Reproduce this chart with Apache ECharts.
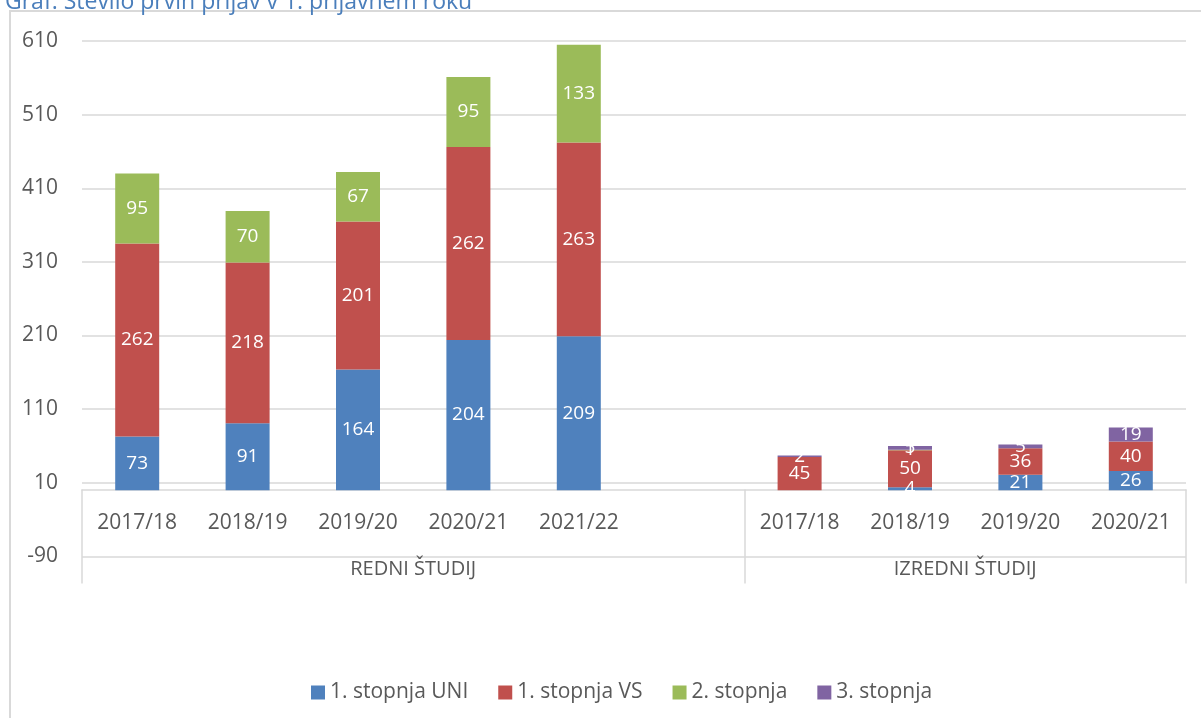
<!DOCTYPE html>
<html>
<head>
<meta charset="utf-8">
<script src="https://cdn.jsdelivr.net/npm/echarts@6/dist/echarts.min.js"></script>
<style>
html,body{margin:0;padding:0;background:#fff;}
#chart{width:1201px;height:718px;}
</style>
</head>
<body>
<div id="chart"></div>
<script>
// ---- data ----
const titleText = 'Graf: Število prvih prijav v 1. prijavnem roku';
const yearsRedni = ['2017/18', '2018/19', '2019/20', '2020/21', '2021/22'];
const yearsIzredni = ['2017/18', '2018/19', '2019/20', '2020/21'];
const groupNames = ['REDNI ŠTUDIJ', 'IZREDNI ŠTUDIJ'];
const seriesNames = ['1. stopnja UNI', '1. stopnja VS', '2. stopnja', '3. stopnja'];

const uniRedni = [73, 91, 164, 204, 209];
const vsRedni = [262, 218, 201, 262, 263];
const st2Redni = [95, 70, 67, 95, 133];
const st3Redni = [0, 0, 0, 0, 0];

const uniIzredni = [0, 4, 21, 26];
const vsIzredni = [45, 50, 36, 40];
const st2Izredni = [0, 1, 0, 0];
const st3Izredni = [2, 5, 5, 19];

const yMin = -90, yMax = 610, yStep = 100;

// ---- build ----
const categories = yearsRedni.concat([''], yearsIzredni);
const join = (a, b) => a.concat([null], b);
const seriesData = [
  join(uniRedni, uniIzredni),
  join(vsRedni, vsIzredni),
  join(st2Redni, st2Izredni),
  join(st3Redni, st3Izredni)
];
const colors = ['#4F81BD', '#C0504D', '#9BBB59', '#8064A2'];

// group axis: boundary points (11 points for 10 slots)
const nSlots = categories.length;
const redniSlots = yearsRedni.length + 1;
const groupPoints = [];
for (let i = 0; i <= nSlots; i++) groupPoints.push('');
groupPoints[redniSlots / 2] = groupNames[0];
groupPoints[redniSlots + (nSlots - redniSlots) / 2] = groupNames[1];
const groupBoundaries = [0, redniSlots, nSlots];

const FONT = 'Open Sans';
const chart = echarts.init(document.getElementById('chart'));
chart.setOption({
  animation: false,
  color: colors,
  title: {
    text: titleText,
    left: 0,
    top: -14,
    textStyle: {color: '#4A7EBB', fontFamily: FONT, fontSize: 23, fontWeight: 'normal'}
  },
  graphic: [{
    type: 'rect',
    shape: {x: 10, y: 11, width: 1400, height: 900},
    style: {fill: 'none', stroke: '#D9D9D9', lineWidth: 2},
    silent: true,
    z: -10
  }],
  grid: {left: 82, right: 15, top: 41, bottom: 161.6, containLabel: false},
  legend: {
    data: seriesNames,
    left: 306,
    top: 677,
    icon: 'rect',
    itemWidth: 14,
    itemHeight: 14,
    itemGap: 30,
    textStyle: {color: '#595959', fontFamily: FONT, fontSize: 21}
  },
  xAxis: [{
    type: 'category',
    data: categories,
    position: 'bottom',
    offset: -67,
    axisLine: {show: true, onZero: false, lineStyle: {color: '#D9D9D9', width: 1.5}},
    axisTick: {show: false},
    axisLabel: {interval: 0, margin: 23, color: '#595959', fontFamily: FONT, fontSize: 21}
  }, {
    type: 'category',
    data: groupPoints,
    boundaryGap: false,
    position: 'bottom',
    offset: -67,
    axisLine: {show: false, onZero: false},
    axisTick: {
      show: true,
      length: 94,
      interval: (i) => groupBoundaries.indexOf(i) >= 0,
      lineStyle: {color: '#D9D9D9', width: 1.5}
    },
    axisLabel: {
      interval: 0,
      margin: 70,
      color: '#595959',
      fontFamily: FONT,
      fontSize: 20
    }
  }],
  yAxis: {
    type: 'value',
    min: yMin,
    max: yMax,
    interval: yStep,
    axisLine: {show: false},
    axisTick: {show: false},
    axisLabel: {margin: 24, color: '#595959', fontFamily: FONT, fontSize: 21},
    splitLine: {lineStyle: {color: '#D9D9D9', width: 1.5}}
  },
  series: seriesNames.map((name, k) => ({
    name: name,
    type: 'bar',
    stack: 'total',
    xAxisIndex: 0,
    barWidth: 44,
    data: seriesData[k],
    itemStyle: {color: colors[k]},
    label: {
      show: true,
      position: 'inside',
      color: '#FFFFFF',
      fontFamily: FONT,
      fontSize: 19,
      formatter: (p) => (p.value ? String(p.value) : '')
    }
  }))
});
</script>
</body>
</html>
